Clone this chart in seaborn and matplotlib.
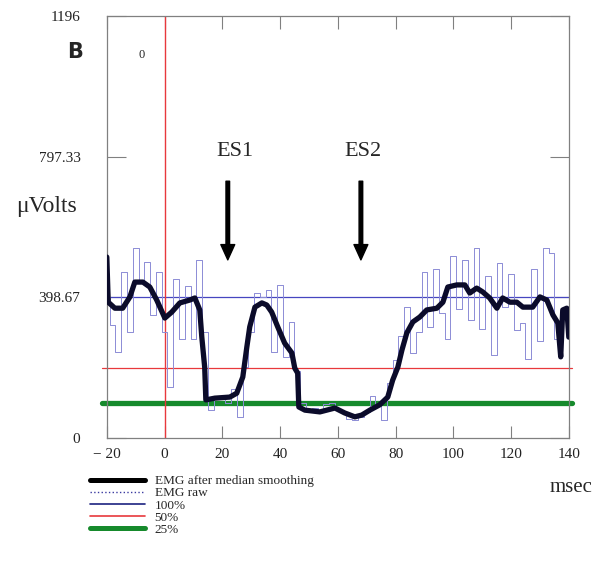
import numpy as np
import pandas as pd
import matplotlib
matplotlib.use("Agg")
import matplotlib.pyplot as plt
from matplotlib.lines import Line2D
import seaborn as sns

# =====================
# DATA
# =====================
smooth_t = [-20, -19.5, -17.2, -14.5, -12.0, -10.3, -7.5, -5.1, -2.7, 0.1, 2.5, 5.3,
            8.7, 10.5, 12.2, 12.9, 13.9, 14.3, 17.4, 22.6, 25.0, 27.1, 28.5, 29.5,
            31.3, 33.7, 35.4, 37.1, 39.2, 41.6, 44.1, 45.1, 46.1, 46.5, 48.6, 53.8,
            59.0, 62.4, 65.9, 68.3, 71.1, 74.5, 77.3, 79.0, 80.8, 82.2, 83.9, 86.0,
            88.4, 90.8, 94.3, 96.4, 98.1, 101.2, 104.0, 105.7, 108.1, 110.2, 112.6,
            115.1, 117.1, 119.6, 122.0, 124.1, 127.5, 130.0, 132.4, 134.5, 136.2,
            137.2, 137.9, 139.3, 140]
smooth_uv = [513, 385, 368, 368, 400, 442, 442, 428, 391, 340, 357, 383,
             391, 397, 363, 286, 201, 108, 113, 116, 127, 173, 258, 315,
             371, 383, 377, 357, 315, 269, 241, 198, 184, 88, 79, 74,
             85, 71, 60, 65, 79, 94, 116, 164, 201, 249, 298, 329,
             343, 363, 368, 385, 428, 434, 434, 411, 425, 414, 397,
             368, 397, 385, 385, 371, 371, 400, 391, 349, 326,
             230, 363, 368, 286]

raw_t = list(range(-20, 142, 2))
raw_uv = [400, 320, 245, 470, 300, 540, 440, 500, 350, 470, 300, 145, 450, 280, 430,
          280, 505, 300, 80, 110, 120, 100, 140, 60, 200, 300, 410, 400, 420, 245,
          435, 230, 330, 190, 100, 80, 85, 75, 95, 100, 80, 70, 55, 50, 60,
          75, 120, 95, 50, 155, 220, 290, 372, 240, 300, 470, 315, 480, 355, 280,
          515, 365, 505, 335, 540, 310, 460, 235, 495, 370, 465, 305, 325, 225, 480,
          275, 540, 525, 280, 345, 300]

level_100 = 398.67
level_50 = 199.0
level_25 = 99.7

y_ticks = [0, 398.67, 797.33, 1196]
y_tick_labels = ["0", "398.67", "797.33", "1196"]
x_ticks = [-20, 0, 20, 40, 60, 80, 100, 120, 140]
x_tick_labels = ["\u2212 20", "0", "20", "40", "60", "80", "100", "120", "140"]

legend_labels = ["EMG after median smoothing", "EMG raw", "100%", "50%", "25%"]

smooth_df = pd.DataFrame({"msec": smooth_t, "uV": smooth_uv})
raw_df = pd.DataFrame({"msec": raw_t, "uV": raw_uv})

# =====================
# PLOT
# =====================
sns.set_style("white")
plt.rcParams["font.family"] = ["Liberation Serif", "DejaVu Serif"]

fig = plt.figure(figsize=(6, 5.64), dpi=100)
ax = fig.add_axes([0.178, 0.2234, 0.77, 0.748])

c_raw = "#8c8cd6"
c_smooth = "#0b0b2a"
c_100 = "#4646c0"
c_50 = "#e8383c"
c_25 = "#168a2c"

# threshold lines (slightly overhang the frame like the original)
ax.plot([-21.7, 141.0], [level_25, level_25], color=c_25, lw=3.8, clip_on=False, zorder=2)
ax.plot([-21.7, 141.0], [level_50, level_50], color=c_50, lw=0.9, clip_on=False, zorder=2)
ax.plot([-20, 140], [level_100, level_100], color=c_100, lw=0.9, zorder=2)
ax.axvline(0, color=c_50, lw=1.0, zorder=2)

sns.lineplot(data=raw_df, x="msec", y="uV", ax=ax, color=c_raw, lw=0.7,
             drawstyle="steps-mid", estimator=None, sort=False, zorder=3)
sns.lineplot(data=smooth_df, x="msec", y="uV", ax=ax, color=c_smooth, lw=3.8,
             estimator=None, sort=False, zorder=4)

ax.set_xlim(-20, 140)
ax.set_ylim(0, 1196)
ax.set_xticks(x_ticks)
ax.set_xticklabels(x_tick_labels)
ax.set_yticks(y_ticks)
ax.set_yticklabels(y_tick_labels)
ax.set_xlabel("")
ax.set_ylabel("")

for sp in ax.spines.values():
    sp.set_color("#808080")
    sp.set_linewidth(0.9)

ax.tick_params(axis="x", direction="in", top=True, bottom=True, length=9,
               width=0.8, color="#808080", labelsize=11, pad=7, labelcolor="#222222")
ax.tick_params(axis="y", direction="in", left=True, right=True, length=14,
               width=0.8, color="#808080", labelsize=11, pad=19, labelcolor="#222222")

# annotations
ax.text(-7.9, 1085, "0", fontsize=9, ha="center", va="center")
ax.text(24.3, 813, "ES1", fontsize=16, ha="center", va="center")
ax.text(68.6, 813, "ES2", fontsize=16, ha="center", va="center")
for xa in [21.9, 68.0]:
    ax.annotate("", xy=(xa, 505), xytext=(xa, 728),
                arrowprops=dict(facecolor="black", edgecolor="black", width=2.6,
                                headwidth=10, headlength=11))

fig.text(0.125, 0.908, "B", fontsize=15, fontweight="bold", family="DejaVu Sans",
         ha="center", va="center")
fig.text(0.078, 0.633, "\u03bcVolts", fontsize=17, ha="center", va="center")
fig.text(0.952, 0.135, "msec", fontsize=15, ha="center", va="center")

handles = [
    Line2D([], [], color="black", lw=3.6),
    Line2D([], [], color="#3a3aa0", lw=1.0, ls=":"),
    Line2D([], [], color="#1c2380", lw=1.2),
    Line2D([], [], color=c_50, lw=1.2),
    Line2D([], [], color=c_25, lw=3.6),
]
fig.legend(handles, legend_labels, loc="upper left", bbox_to_anchor=(0.15, 0.158),
           frameon=False, fontsize=9.5, handlelength=4.2, handletextpad=0.7,
           labelspacing=0.0, borderpad=0, borderaxespad=0)

plt.savefig("out.png", dpi=100)
plt.close()
